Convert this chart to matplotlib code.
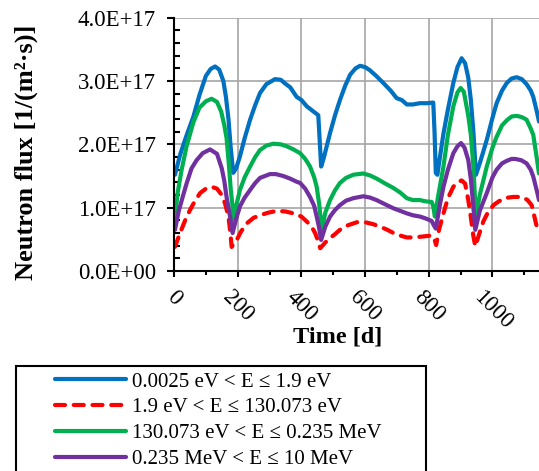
import matplotlib
matplotlib.use("Agg")
import matplotlib.pyplot as plt
from matplotlib.ticker import MultipleLocator, FuncFormatter
from matplotlib.patches import Rectangle

# ---- data (flux in units of 1E17) ----
blue_t = [3, 20, 40, 61, 80, 100, 115, 129, 142, 155, 163, 171, 178, 186, 195, 207, 222, 239, 255, 270,
          290, 317, 335, 349, 365, 385, 400, 417, 435, 453, 457, 462, 470, 490, 505, 521, 537, 553, 570, 584,
          600, 615, 635, 657, 680, 699, 715, 731, 750, 772, 795, 814, 818, 822, 827, 835, 846, 860, 877, 890,
          903, 914, 924, 932, 940, 948, 960, 982, 1000, 1013, 1030, 1045, 1060, 1076, 1092, 1107, 1120, 1128,
          1140, 1146]
blue_f = [1.52, 1.85, 2.15, 2.44, 2.78, 3.08, 3.19, 3.23, 3.18, 3.00, 2.75, 2.40, 1.95, 1.55, 1.62, 1.81, 2.10, 2.39, 2.62, 2.81,
          2.95, 3.03, 3.02, 2.96, 2.90, 2.75, 2.70, 2.60, 2.53, 2.46, 2.10, 1.65, 1.78, 2.18, 2.45, 2.70, 2.92, 3.10, 3.20, 3.24,
          3.22, 3.17, 3.08, 2.97, 2.85, 2.73, 2.70, 2.63, 2.63, 2.65, 2.65, 2.66, 2.20, 1.55, 1.52, 1.80, 2.17, 2.55, 2.97, 3.22,
          3.36, 3.28, 3.05, 2.70, 2.20, 1.52, 1.70, 2.07, 2.42, 2.65, 2.85, 2.97, 3.04, 3.06, 3.03, 2.95, 2.85, 2.75,
          2.50, 2.36]

red_t = [3, 19, 35, 50, 65, 82, 100, 118, 135, 150, 160, 171, 177, 181, 197, 210, 228, 250, 270, 295,
         322, 350, 375, 400, 417, 432, 443, 452, 459, 475, 490, 505, 521, 545, 574, 600, 625, 647, 670, 689,
         710, 731, 750, 772, 790, 809, 816, 823, 832, 846, 860, 877, 890, 903, 914, 924, 932, 940, 946, 958,
         971, 985, 1003, 1020, 1034, 1050, 1066, 1082, 1097, 1110, 1123, 1132, 1139, 1146]
red_f = [0.38, 0.60, 0.80, 0.96, 1.10, 1.23, 1.30, 1.33, 1.30, 1.20, 1.07, 0.86, 0.60, 0.38, 0.49, 0.62, 0.75, 0.84, 0.88, 0.92,
         0.95, 0.94, 0.91, 0.86, 0.78, 0.70, 0.60, 0.48, 0.36, 0.45, 0.52, 0.58, 0.65, 0.72, 0.77, 0.77, 0.74, 0.70, 0.65, 0.60,
         0.56, 0.53, 0.53, 0.54, 0.55, 0.56, 0.53, 0.41, 0.65, 0.91, 1.15, 1.33, 1.40, 1.43, 1.38, 1.12, 0.85, 0.55, 0.39, 0.58,
         0.78, 0.92, 1.04, 1.10, 1.14, 1.16, 1.17, 1.17, 1.16, 1.12, 1.04, 0.85, 0.70, 0.65]

green_t = [3, 12, 24, 40, 61, 80, 100, 118, 135, 148, 158, 165, 172, 178, 188, 195, 207, 222, 239, 255,
           270, 290, 312, 335, 354, 375, 396, 412, 427, 440, 448, 456, 464, 475, 490, 505, 521, 540, 563, 594,
           615, 636, 660, 689, 710, 731, 750, 772, 790, 809, 814, 819, 830, 846, 860, 877, 890, 900, 910, 924,
           932, 940, 948, 960, 982, 1000, 1013, 1030, 1045, 1060, 1076, 1092, 1107, 1120, 1128, 1140, 1146]
green_f = [0.86, 1.25, 1.60, 1.98, 2.35, 2.58, 2.68, 2.72, 2.67, 2.52, 2.30, 2.10, 1.70, 1.30, 0.81, 1.02, 1.28, 1.48, 1.65, 1.80,
           1.91, 1.98, 2.01, 2.00, 1.97, 1.92, 1.86, 1.77, 1.65, 1.48, 1.33, 1.05, 0.65, 0.92, 1.12, 1.27, 1.39, 1.47, 1.52, 1.54,
           1.51, 1.46, 1.39, 1.31, 1.24, 1.15, 1.12, 1.12, 1.10, 1.09, 1.02, 0.86, 1.20, 1.65, 2.15, 2.60, 2.82, 2.89, 2.83, 2.45,
           2.15, 1.65, 0.86, 1.20, 1.65, 1.95, 2.12, 2.30, 2.38, 2.44, 2.45, 2.43, 2.39, 2.25, 2.15, 1.75, 1.54]

purple_t = [3, 15, 29, 40, 55, 71, 90, 113, 135, 150, 158, 165, 176, 184, 195, 207, 222, 239, 255, 270,
            301, 320, 343, 364, 385, 396, 412, 427, 440, 448, 455, 462, 475, 490, 505, 521, 540, 563, 594, 615,
            636, 660, 689, 710, 731, 750, 772, 790, 809, 816, 822, 835, 846, 860, 877, 890, 901, 912, 924, 932,
            938, 946, 960, 982, 1000, 1013, 1030, 1045, 1060, 1071, 1090, 1107, 1120, 1128, 1140, 1146]
purple_f = [0.65, 0.95, 1.20, 1.39, 1.62, 1.75, 1.86, 1.92, 1.85, 1.62, 1.42, 1.17, 0.86, 0.60, 0.82, 1.02, 1.16, 1.28, 1.39, 1.47,
            1.53, 1.53, 1.50, 1.46, 1.41, 1.39, 1.30, 1.17, 1.03, 0.86, 0.70, 0.49, 0.70, 0.86, 0.96, 1.04, 1.11, 1.15, 1.18, 1.16,
            1.12, 1.06, 0.99, 0.95, 0.91, 0.88, 0.86, 0.83, 0.79, 0.72, 0.67, 1.05, 1.33, 1.60, 1.86, 1.97, 2.02, 1.95, 1.75, 1.45,
            1.12, 0.65, 0.95, 1.23, 1.48, 1.60, 1.70, 1.74, 1.77, 1.77, 1.75, 1.70, 1.60, 1.49, 1.25, 1.12]

labels = ["0.0025 eV < E \u2264 1.9 eV",
          "1.9 eV < E \u2264 130.073 eV",
          "130.073 eV < E \u2264 0.235 MeV",
          "0.235 MeV < E \u2264 10 MeV"]
colors = ["#0070C0", "#FF0000", "#00B050", "#7030A0"]

plt.rcParams['font.family'] = ['Liberation Serif', 'DejaVu Serif']

fig = plt.figure(figsize=(5.39, 4.71), dpi=100)
ax = fig.add_axes([174/539, 1 - 271/471, 1 - 174/539, (271 - 17.7)/471])

series = [(blue_t, blue_f), (red_t, red_f), (green_t, green_f), (purple_t, purple_f)]
lines = []
for (t, f), c, lab in zip(series, colors, labels):
    if c == "#FF0000":
        ln, = ax.plot(t, [v*1e17 for v in f], color=c, lw=3, ls=(0, (2.4, 2.1)),
                      dash_capstyle='round', label=lab)
    else:
        ln, = ax.plot(t, [v*1e17 for v in f], color=c, lw=3, solid_capstyle='round',
                      solid_joinstyle='round', label=lab)
    lines.append(ln)

ax.set_xlim(0, 1146)
ax.set_ylim(0, 4e17)
ax.xaxis.set_major_locator(MultipleLocator(200))
ax.xaxis.set_minor_locator(MultipleLocator(100))
ax.yaxis.set_major_locator(MultipleLocator(1e17))
ax.yaxis.set_minor_locator(MultipleLocator(2e16))
ax.yaxis.set_major_formatter(FuncFormatter(lambda v, p: f"{v:.1E}"))
ax.grid(True, which='major', color='#A6A6A6', lw=1.2)
ax.set_axisbelow(True)

for s in ['top', 'right']:
    ax.spines[s].set_visible(False)
for s in ['left', 'bottom']:
    ax.spines[s].set_linewidth(1.5)

ax.tick_params(axis='y', which='major', direction='out', length=5, width=1.5, labelsize=16.5, pad=8)
ax.tick_params(axis='y', which='minor', direction='in', length=4, width=1.5)
ax.tick_params(axis='x', which='major', direction='out', length=4, width=1.5, labelsize=16.5, pad=7)
ax.tick_params(axis='x', which='minor', direction='out', length=3, width=1.5)
for lbl in ax.get_xticklabels():
    lbl.set_rotation(-45)
    lbl.set_ha('center')
    lbl.set_va('top')

ax.set_xlabel("Time [d]", fontsize=17.5, fontweight='bold')
ax.set_ylabel("Neutron flux [1/(m\u00b2\u00b7s)]", fontsize=19, fontweight='bold')
ax.xaxis.set_label_coords((338 - 174)/365, (271 - 326)/253.3)
ax.yaxis.set_label_coords((38 - 174)/365, (271 - 152.5)/253.3)

fig.legend(handles=lines, loc='upper left', bbox_to_anchor=(55/539, 1 - 372/471),
           frameon=False, fontsize=15, handlelength=3.4, handletextpad=0.3,
           labelspacing=0.3, borderpad=0, borderaxespad=0)
fig.patches.append(Rectangle((15.7/539, -0.05), (425.7 - 15.7)/539, 1 - 366/471 + 0.05,
                             transform=fig.transFigure, fill=False, ec='black', lw=1.5))

fig.savefig("out.png", dpi=100)
